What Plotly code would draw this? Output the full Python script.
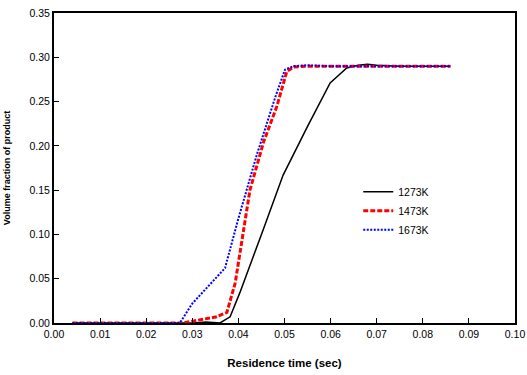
import plotly.graph_objects as go

x_1273 = [0.004, 0.010, 0.020, 0.030, 0.033, 0.036, 0.0382, 0.0403, 0.045, 0.0497, 0.055, 0.0599, 0.0635, 0.066, 0.068, 0.070, 0.075, 0.080, 0.086]
y_1273 = [0.0, 0.0, 0.0, 0.0, 0.001, 0.0, 0.007, 0.034, 0.100, 0.167, 0.222, 0.271, 0.288, 0.291, 0.292, 0.291, 0.290, 0.290, 0.290]

x_1473 = [0.004, 0.010, 0.020, 0.028, 0.031, 0.0353, 0.0375, 0.0393, 0.0425, 0.0455, 0.0483, 0.0505, 0.052, 0.055, 0.060, 0.070, 0.080, 0.086]
y_1473 = [0.0, 0.0, 0.0, 0.0, 0.003, 0.007, 0.012, 0.045, 0.150, 0.205, 0.244, 0.284, 0.289, 0.290, 0.290, 0.290, 0.290, 0.290]

x_1673 = [0.004, 0.010, 0.020, 0.0273, 0.030, 0.0335, 0.0371, 0.040, 0.044, 0.048, 0.0501, 0.052, 0.055, 0.060, 0.070, 0.080, 0.086]
y_1673 = [0.0, 0.0, 0.0, 0.0, 0.022, 0.042, 0.062, 0.118, 0.190, 0.255, 0.286, 0.290, 0.291, 0.290, 0.290, 0.290, 0.290]

fig = go.Figure()
fig.add_trace(go.Scatter(x=x_1273, y=y_1273, mode="lines", name="1273K",
                         line=dict(color="black", width=1.5, dash="solid")))
fig.add_trace(go.Scatter(x=x_1473, y=y_1473, mode="lines", name="1473K",
                         line=dict(color="red", width=3, dash="5px,2px")))
fig.add_trace(go.Scatter(x=x_1673, y=y_1673, mode="lines", name="1673K",
                         line=dict(color="blue", width=2, dash="2px,1.5px")))

font = "Liberation Sans, Arial, sans-serif"
fig.update_layout(
    width=527, height=375,
    margin=dict(l=54, r=12, t=13, b=52),
    paper_bgcolor="white", plot_bgcolor="white",
    font=dict(family=font, size=10.5, color="black"),
    showlegend=True,
    legend=dict(x=0.66, y=0.47, xanchor="left", yanchor="top",
                bgcolor="rgba(0,0,0,0)", font=dict(size=10.5),
                tracegroupgap=0),
    xaxis=dict(range=[0, 0.10], dtick=0.01, tickformat=".2f",
               showgrid=False, zeroline=False, automargin=False,
               showline=True, linecolor="black", linewidth=2, mirror=True,
               ticks="inside", ticklen=5, tickcolor="black",
               title=dict(text="<b>Residence time (sec)</b>", font=dict(size=11.5), standoff=20)),
    yaxis=dict(range=[0, 0.35], dtick=0.05, tickformat=".2f",
               showgrid=False, zeroline=False, automargin=False,
               showline=True, linecolor="black", linewidth=2, mirror=True,
               ticks="inside", ticklen=5, tickcolor="black",
               title=dict(text="<b>Volume fraction of product</b>", font=dict(size=9), standoff=17)),
)

fig.write_html("out.html", config={"displayModeBar": False},
               post_script="document.body.style.margin='0';document.body.style.padding='0';")
